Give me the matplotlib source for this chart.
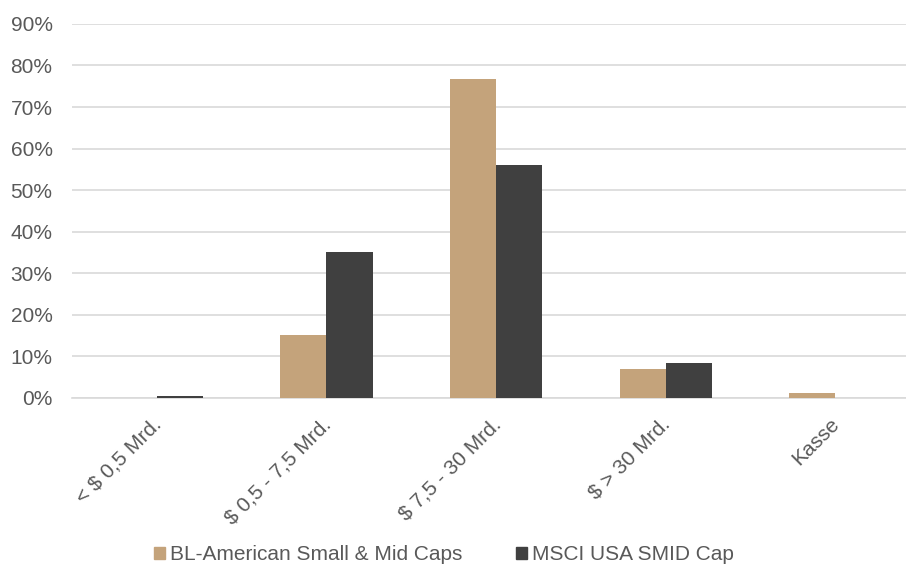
import numpy as np
import matplotlib.pyplot as plt
from matplotlib.patches import Patch

plt.rcParams['font.family'] = ['Liberation Sans', 'DejaVu Sans']

categories = ['< $ 0,5 Mrd.', '$ 0,5 - 7,5 Mrd.', '$ 7,5 - 30 Mrd.', '$ > 30 Mrd.', 'Kasse']
fund = [0.0, 15.1, 76.7, 7.0, 1.2]
index = [0.4, 35.1, 56.0, 8.4, 0.0]
series_names = ['BL-American Small & Mid Caps', 'MSCI USA SMID Cap']
colors = ['#C4A37B', '#404040']
text_col = '#595959'
fs = 15

fig = plt.figure(figsize=(9.06, 5.70), dpi=100)
# plot area runs past the right edge of the picture, as in the original
ax = fig.add_axes([0.0795, 0.302, 0.936, 0.656])

x = np.arange(len(categories))
w = 0.272
ax.bar(x - w / 2, fund, w, color=colors[0], zorder=3)
ax.bar(x + w / 2, index, w, color=colors[1], zorder=3)

ax.set_xlim(-0.5, len(categories) - 0.5)
ax.set_ylim(0, 90)
ax.set_yticks(np.arange(0, 91, 10))
ax.set_yticklabels([f'{v}%' for v in range(0, 91, 10)], fontsize=fs, color=text_col)
ax.yaxis.grid(True, color='#D9D9D9', linewidth=1.2, zorder=0)
ax.set_axisbelow(True)
for s in ['top', 'right', 'left']:
    ax.spines[s].set_visible(False)
ax.spines['bottom'].set_color('#D9D9D9')
ax.spines['bottom'].set_linewidth(1.2)
ax.tick_params(axis='both', length=0)
ax.tick_params(axis='y', pad=14)

ax.set_xticks(x - 0.03)
ax.set_xticklabels(categories, rotation=45, ha='right', rotation_mode='anchor',
                   fontsize=fs, color=text_col)
ax.tick_params(axis='x', pad=12)

handles = [Patch(color=c) for c in colors]
fig.legend(handles, series_names, loc='lower center', bbox_to_anchor=(0.49, -0.023),
           ncol=2, frameon=False, fontsize=fs, labelcolor=text_col,
           handlelength=0.5, handleheight=0.5, handletextpad=0.25, columnspacing=2.6)

fig.savefig('out.png', dpi=100)
